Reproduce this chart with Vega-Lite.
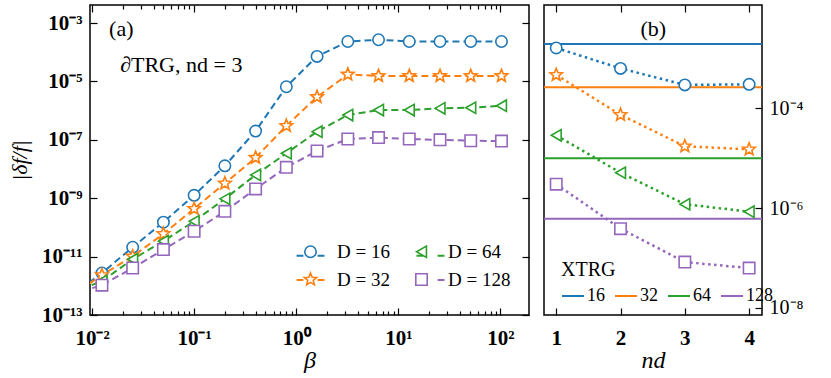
{
  "$schema": "https://vega.github.io/schema/vega-lite/v6.json",
  "padding": {"left": 7, "top": 3, "right": 0, "bottom": 0},
  "config": {
    "view": {"stroke": "black", "strokeWidth": 1.5},
    "font": "Liberation Serif",
    "axis": {"grid": false, "domain": false, "labelColor": "black", "titleColor": "black", "tickColor": "black", "labelFont": "Liberation Serif", "titleFont": "Liberation Serif", "labelOverlap": false, "labelFlush": false, "tickWidth": 1.2},
    "legend": {"labelFont": "Liberation Serif", "titleFont": "Liberation Serif", "labelColor": "black", "titleColor": "black"}
  },
  "datasets": {
    "a": [
      {"s": "D = 16", "D": 16, "beta": 0.00625, "err": 4.47e-13},
      {"s": "D = 16", "D": 16, "beta": 0.0125, "err": 2.75e-12},
      {"s": "D = 16", "D": 16, "beta": 0.025, "err": 2.09e-11},
      {"s": "D = 16", "D": 16, "beta": 0.05, "err": 1.51e-10},
      {"s": "D = 16", "D": 16, "beta": 0.1, "err": 1.26e-9},
      {"s": "D = 16", "D": 16, "beta": 0.2, "err": 1.29e-8},
      {"s": "D = 16", "D": 16, "beta": 0.4, "err": 2.0e-7},
      {"s": "D = 16", "D": 16, "beta": 0.8, "err": 6.61e-6},
      {"s": "D = 16", "D": 16, "beta": 1.6, "err": 7.24e-5},
      {"s": "D = 16", "D": 16, "beta": 3.2, "err": 2.34e-4},
      {"s": "D = 16", "D": 16, "beta": 6.4, "err": 2.69e-4},
      {"s": "D = 16", "D": 16, "beta": 12.8, "err": 2.34e-4},
      {"s": "D = 16", "D": 16, "beta": 25.6, "err": 2.34e-4},
      {"s": "D = 16", "D": 16, "beta": 51.2, "err": 2.34e-4},
      {"s": "D = 16", "D": 16, "beta": 102.4, "err": 2.34e-4},
      {"s": "D = 32", "D": 32, "beta": 0.00625, "err": 4.47e-13},
      {"s": "D = 32", "D": 32, "beta": 0.0125, "err": 2.34e-12},
      {"s": "D = 32", "D": 32, "beta": 0.025, "err": 1.02e-11},
      {"s": "D = 32", "D": 32, "beta": 0.05, "err": 6.03e-11},
      {"s": "D = 32", "D": 32, "beta": 0.1, "err": 4.37e-10},
      {"s": "D = 32", "D": 32, "beta": 0.2, "err": 3.24e-9},
      {"s": "D = 32", "D": 32, "beta": 0.4, "err": 2.45e-8},
      {"s": "D = 32", "D": 32, "beta": 0.8, "err": 3.02e-7},
      {"s": "D = 32", "D": 32, "beta": 1.6, "err": 2.95e-6},
      {"s": "D = 32", "D": 32, "beta": 3.2, "err": 1.74e-5},
      {"s": "D = 32", "D": 32, "beta": 6.4, "err": 1.55e-5},
      {"s": "D = 32", "D": 32, "beta": 12.8, "err": 1.55e-5},
      {"s": "D = 32", "D": 32, "beta": 25.6, "err": 1.55e-5},
      {"s": "D = 32", "D": 32, "beta": 51.2, "err": 1.55e-5},
      {"s": "D = 32", "D": 32, "beta": 102.4, "err": 1.55e-5},
      {"s": "D = 64", "D": 64, "beta": 0.00625, "err": 5.62e-13},
      {"s": "D = 64", "D": 64, "beta": 0.0125, "err": 1.45e-12},
      {"s": "D = 64", "D": 64, "beta": 0.025, "err": 8.13e-12},
      {"s": "D = 64", "D": 64, "beta": 0.05, "err": 3.39e-11},
      {"s": "D = 64", "D": 64, "beta": 0.1, "err": 1.62e-10},
      {"s": "D = 64", "D": 64, "beta": 0.2, "err": 9.55e-10},
      {"s": "D = 64", "D": 64, "beta": 0.4, "err": 6.31e-9},
      {"s": "D = 64", "D": 64, "beta": 0.8, "err": 3.47e-8},
      {"s": "D = 64", "D": 64, "beta": 1.6, "err": 1.91e-7},
      {"s": "D = 64", "D": 64, "beta": 3.2, "err": 7.08e-7},
      {"s": "D = 64", "D": 64, "beta": 6.4, "err": 1.05e-6},
      {"s": "D = 64", "D": 64, "beta": 12.8, "err": 1.05e-6},
      {"s": "D = 64", "D": 64, "beta": 25.6, "err": 1.2e-6},
      {"s": "D = 64", "D": 64, "beta": 51.2, "err": 1.26e-6},
      {"s": "D = 64", "D": 64, "beta": 102.4, "err": 1.48e-6},
      {"s": "D = 128", "D": 128, "beta": 0.00625, "err": 5.01e-13},
      {"s": "D = 128", "D": 128, "beta": 0.0125, "err": 1.05e-12},
      {"s": "D = 128", "D": 128, "beta": 0.025, "err": 4.07e-12},
      {"s": "D = 128", "D": 128, "beta": 0.05, "err": 1.74e-11},
      {"s": "D = 128", "D": 128, "beta": 0.1, "err": 7.41e-11},
      {"s": "D = 128", "D": 128, "beta": 0.2, "err": 3.55e-10},
      {"s": "D = 128", "D": 128, "beta": 0.4, "err": 2.09e-9},
      {"s": "D = 128", "D": 128, "beta": 0.8, "err": 1.15e-8},
      {"s": "D = 128", "D": 128, "beta": 1.6, "err": 4.17e-8},
      {"s": "D = 128", "D": 128, "beta": 3.2, "err": 1.07e-7},
      {"s": "D = 128", "D": 128, "beta": 6.4, "err": 1.2e-7},
      {"s": "D = 128", "D": 128, "beta": 12.8, "err": 1.07e-7},
      {"s": "D = 128", "D": 128, "beta": 25.6, "err": 1.0e-7},
      {"s": "D = 128", "D": 128, "beta": 51.2, "err": 9.33e-8},
      {"s": "D = 128", "D": 128, "beta": 102.4, "err": 9.12e-8}
    ],
    "b": [
      {"D": "b16", "nd": 1, "err": 1.62e-3},
      {"D": "b16", "nd": 2, "err": 6.31e-4},
      {"D": "b16", "nd": 3, "err": 2.95e-4},
      {"D": "b16", "nd": 4, "err": 3.02e-4},
      {"D": "b32", "nd": 1, "err": 4.68e-4},
      {"D": "b32", "nd": 2, "err": 7.41e-5},
      {"D": "b32", "nd": 3, "err": 1.74e-5},
      {"D": "b32", "nd": 4, "err": 1.51e-5},
      {"D": "b64", "nd": 1, "err": 2.88e-5},
      {"D": "b64", "nd": 2, "err": 5.13e-6},
      {"D": "b64", "nd": 3, "err": 1.2e-6},
      {"D": "b64", "nd": 4, "err": 8.51e-7},
      {"D": "b128", "nd": 1, "err": 3.02e-6},
      {"D": "b128", "nd": 2, "err": 3.89e-7},
      {"D": "b128", "nd": 3, "err": 8.32e-8},
      {"D": "b128", "nd": 4, "err": 6.31e-8}
    ],
    "xtrg": [
      {"X": "16", "err": 1.95e-3},
      {"X": "32", "err": 2.63e-4},
      {"X": "64", "err": 1.0e-5},
      {"X": "128", "err": 6.17e-7}
    ],
    "annA": [
      {"beta": 0.0147, "err": 6.3e-4, "t": "(a)"},
      {"beta": 0.01884, "err": 3.7e-5, "t": "∂TRG, nd = 3"}
    ],
    "annB": [
      {"nd": 2.51, "err": 3.9e-3, "t": "(b)"}
    ]
  },
  "spacing": 11,
  "resolve": {
    "scale": {"color": "independent", "shape": "independent", "stroke": "independent"},
    "legend": {"color": "independent", "shape": "independent", "stroke": "independent"}
  },
  "hconcat": [
    {
      "width": 439,
      "height": 310,
      "resolve": {"axis": {"x": "independent", "y": "independent"}},
      "layer": [
        {
          "data": {"name": "a"},
          "mark": {"type": "line", "strokeDash": [7, 4], "strokeWidth": 2, "clip": true},
          "encoding": {
            "x": {"field": "beta", "type": "quantitative", "scale": {"type": "log", "domain": [0.00955, 190.5], "nice": false},
              "axis": {"orient": "bottom", "values": [0.01, 0.1, 1, 10, 100], "labelExpr": "datum.value < 0.05 ? '10⁻²' : datum.value < 0.5 ? '10⁻¹' : datum.value < 5 ? '10⁰' : datum.value < 50 ? '10¹' : '10²'", "ticks": false, "labelPadding": 12, "labelFontSize": 21, "labelFontWeight": "bold", "title": "β", "titleFontSize": 24, "titleFontStyle": "italic", "titleFontWeight": "normal", "titlePadding": 0}},
            "y": {"field": "err", "type": "quantitative", "scale": {"type": "log", "domain": [1e-13, 0.00417], "nice": false},
              "axis": {"orient": "left", "values": [1e-13, 1e-11, 1e-9, 1e-7, 1e-5, 1e-3], "labelExpr": "datum.value < 1e-12 ? '10⁻¹³' : datum.value < 1e-10 ? '10⁻¹¹' : datum.value < 1e-8 ? '10⁻⁹' : datum.value < 1e-6 ? '10⁻⁷' : datum.value < 1e-4 ? '10⁻⁵' : '10⁻³'", "ticks": false, "labelPadding": 8, "labelFontSize": 21, "labelFontWeight": "bold", "title": "|δf/f|", "titleFontSize": 22, "titleFontStyle": "italic", "titleFontWeight": "normal", "titlePadding": 10}},
            "stroke": {"field": "D", "type": "nominal", "scale": {"domain": [16, 32, 64, 128], "range": ["#1f77b4", "#ff7f0e", "#2ca02c", "#9467bd"]},
              "legend": {"orient": "none", "legendX": 211, "legendY": 241, "columns": 2, "title": null, "labelFontSize": 19, "labelExpr": "''", "symbolType": "M-2.45,0H-1.25M1.25,0H2.45", "symbolSize": 130, "symbolStrokeWidth": 2, "symbolDash": [], "labelOffset": 17, "columnPadding": 75, "rowPadding": 4.5}}
          }
        },
        {
          "data": {"name": "a"},
          "mark": {"type": "point", "filled": false, "fill": "white", "opacity": 1, "size": 130, "strokeWidth": 1.6, "clip": true},
          "encoding": {
            "x": {"field": "beta", "type": "quantitative", "axis": {"orient": "bottom", "values": [0.01, 0.1, 1, 10, 100], "labels": false, "title": null, "tickSize": -7}},
            "y": {"field": "err", "type": "quantitative", "axis": {"orient": "left", "values": [1e-13, 1e-11, 1e-9, 1e-7, 1e-5, 1e-3], "labels": false, "title": null, "tickSize": -7}},
            "color": {"field": "s", "type": "nominal", "scale": {"domain": ["D = 16", "D = 32", "D = 64", "D = 128"], "range": ["#1f77b4", "#ff7f0e", "#2ca02c", "#9467bd"]},
              "legend": {"orient": "none", "legendX": 211, "legendY": 237, "columns": 2, "title": null, "labelFontSize": 19, "symbolSize": 130, "symbolStrokeWidth": 1.6, "symbolFillColor": "white", "labelOffset": 17, "columnPadding": 22, "rowPadding": 7}},
            "shape": {"field": "s", "type": "nominal", "scale": {"domain": ["D = 16", "D = 32", "D = 64", "D = 128"], "range": ["circle", "M0,-1.15L0.294,-0.405L1.094,-0.355L0.476,0.155L0.676,0.93L0,0.5L-0.676,0.93L-0.476,0.155L-1.094,-0.355L-0.294,-0.405Z", "triangle-left", "square"]}, "legend": null}
          }
        },
        {
          "data": {"name": "annA"},
          "mark": {"type": "text", "align": "left", "baseline": "middle", "fontSize": 22, "font": "Liberation Serif"},
          "encoding": {
            "x": {"field": "beta", "type": "quantitative", "axis": {"orient": "top", "values": [0.01, 0.1, 1, 10, 100], "labels": false, "title": null, "tickSize": -7}},
            "y": {"field": "err", "type": "quantitative", "axis": {"orient": "right", "values": [1e-13, 1e-11, 1e-9, 1e-7, 1e-5, 1e-3], "labels": false, "title": null, "tickSize": -7}},
            "text": {"field": "t"}
          }
        },
        {
          "data": {"name": "a"},
          "mark": {"type": "point", "opacity": 0},
          "encoding": {
            "x": {"field": "beta", "type": "quantitative", "axis": {"orient": "bottom", "values": [0.02, 0.03, 0.04, 0.05, 0.06, 0.07, 0.08, 0.09, 0.2, 0.3, 0.4, 0.5, 0.6, 0.7, 0.8, 0.9, 2, 3, 4, 5, 6, 7, 8, 9, 20, 30, 40, 50, 60, 70, 80, 90], "labels": false, "title": null, "tickSize": -4}},
            "y": {"field": "err", "type": "quantitative", "axis": null}
          }
        },
        {
          "data": {"name": "a"},
          "mark": {"type": "point", "opacity": 0},
          "encoding": {
            "x": {"field": "beta", "type": "quantitative", "axis": {"orient": "top", "values": [0.02, 0.03, 0.04, 0.05, 0.06, 0.07, 0.08, 0.09, 0.2, 0.3, 0.4, 0.5, 0.6, 0.7, 0.8, 0.9, 2, 3, 4, 5, 6, 7, 8, 9, 20, 30, 40, 50, 60, 70, 80, 90], "labels": false, "title": null, "tickSize": -4}},
            "y": {"field": "err", "type": "quantitative", "axis": null}
          }
        }
      ]
    },
    {
      "width": 218,
      "height": 310,
      "resolve": {"axis": {"x": "independent", "y": "independent"}},
      "layer": [
        {
          "data": {"name": "xtrg"},
          "mark": {"type": "rule", "strokeWidth": 2},
          "encoding": {
            "y": {"field": "err", "type": "quantitative", "scale": {"type": "log", "domain": [7.24e-9, 0.01175], "nice": false},
              "axis": {"orient": "right", "values": [1e-8, 1e-6, 1e-4], "labelExpr": "datum.value < 1e-7 ? '10⁻⁸' : datum.value < 1e-5 ? '10⁻⁶' : '10⁻⁴'", "ticks": false, "labelPadding": 7, "labelFontSize": 20, "title": null}},
            "stroke": {"field": "X", "type": "nominal", "scale": {"domain": ["16", "32", "64", "128"], "range": ["#1f77b4", "#ff7f0e", "#2ca02c", "#9467bd"]},
              "legend": {"title": "XTRG", "orient": "none", "legendX": 17, "legendY": 255, "direction": "horizontal", "titleFontSize": 20, "titleFontWeight": "normal", "labelFontSize": 18, "symbolType": "stroke", "symbolSize": 484, "symbolStrokeWidth": 2, "labelOffset": 2, "columnPadding": 6, "titlePadding": 4}}
          }
        },
        {
          "data": {"name": "b"},
          "mark": {"type": "line", "strokeDash": [2.5, 3.5], "strokeWidth": 2.5, "clip": true},
          "encoding": {
            "x": {"field": "nd", "type": "quantitative", "scale": {"domain": [0.81, 4.2], "nice": false, "zero": false},
              "axis": {"orient": "bottom", "values": [1, 2, 3, 4], "format": "d", "ticks": false, "labelPadding": 12, "labelFontSize": 21, "labelFontWeight": "bold", "title": "nd", "titleFontSize": 24, "titleFontStyle": "italic", "titleFontWeight": "normal", "titlePadding": 0}},
            "y": {"field": "err", "type": "quantitative", "axis": {"orient": "right", "values": [1e-8, 1e-6, 1e-4], "labels": false, "title": null, "tickSize": -7}},
            "color": {"field": "D", "type": "nominal", "scale": {"domain": ["b16", "b32", "b64", "b128"], "range": ["#1f77b4", "#ff7f0e", "#2ca02c", "#9467bd"]}, "legend": null}
          }
        },
        {
          "data": {"name": "b"},
          "mark": {"type": "point", "filled": false, "fill": "white", "opacity": 1, "size": 130, "strokeWidth": 1.6, "clip": true},
          "encoding": {
            "x": {"field": "nd", "type": "quantitative", "axis": {"orient": "bottom", "values": [1, 2, 3, 4], "labels": false, "title": null, "tickSize": -7}},
            "y": {"field": "err", "type": "quantitative", "axis": null},
            "color": {"field": "D", "type": "nominal", "legend": null},
            "shape": {"field": "D", "type": "nominal", "scale": {"domain": ["b16", "b32", "b64", "b128"], "range": ["circle", "M0,-1.15L0.294,-0.405L1.094,-0.355L0.476,0.155L0.676,0.93L0,0.5L-0.676,0.93L-0.476,0.155L-1.094,-0.355L-0.294,-0.405Z", "triangle-left", "square"]}, "legend": null}
          }
        },
        {
          "data": {"name": "annB"},
          "mark": {"type": "text", "align": "center", "baseline": "middle", "fontSize": 22, "font": "Liberation Serif"},
          "encoding": {
            "x": {"field": "nd", "type": "quantitative", "axis": {"orient": "top", "values": [1, 2, 3, 4], "labels": false, "title": null, "tickSize": -7}},
            "y": {"field": "err", "type": "quantitative", "axis": null},
            "text": {"field": "t"}
          }
        }
      ]
    }
  ]
}
